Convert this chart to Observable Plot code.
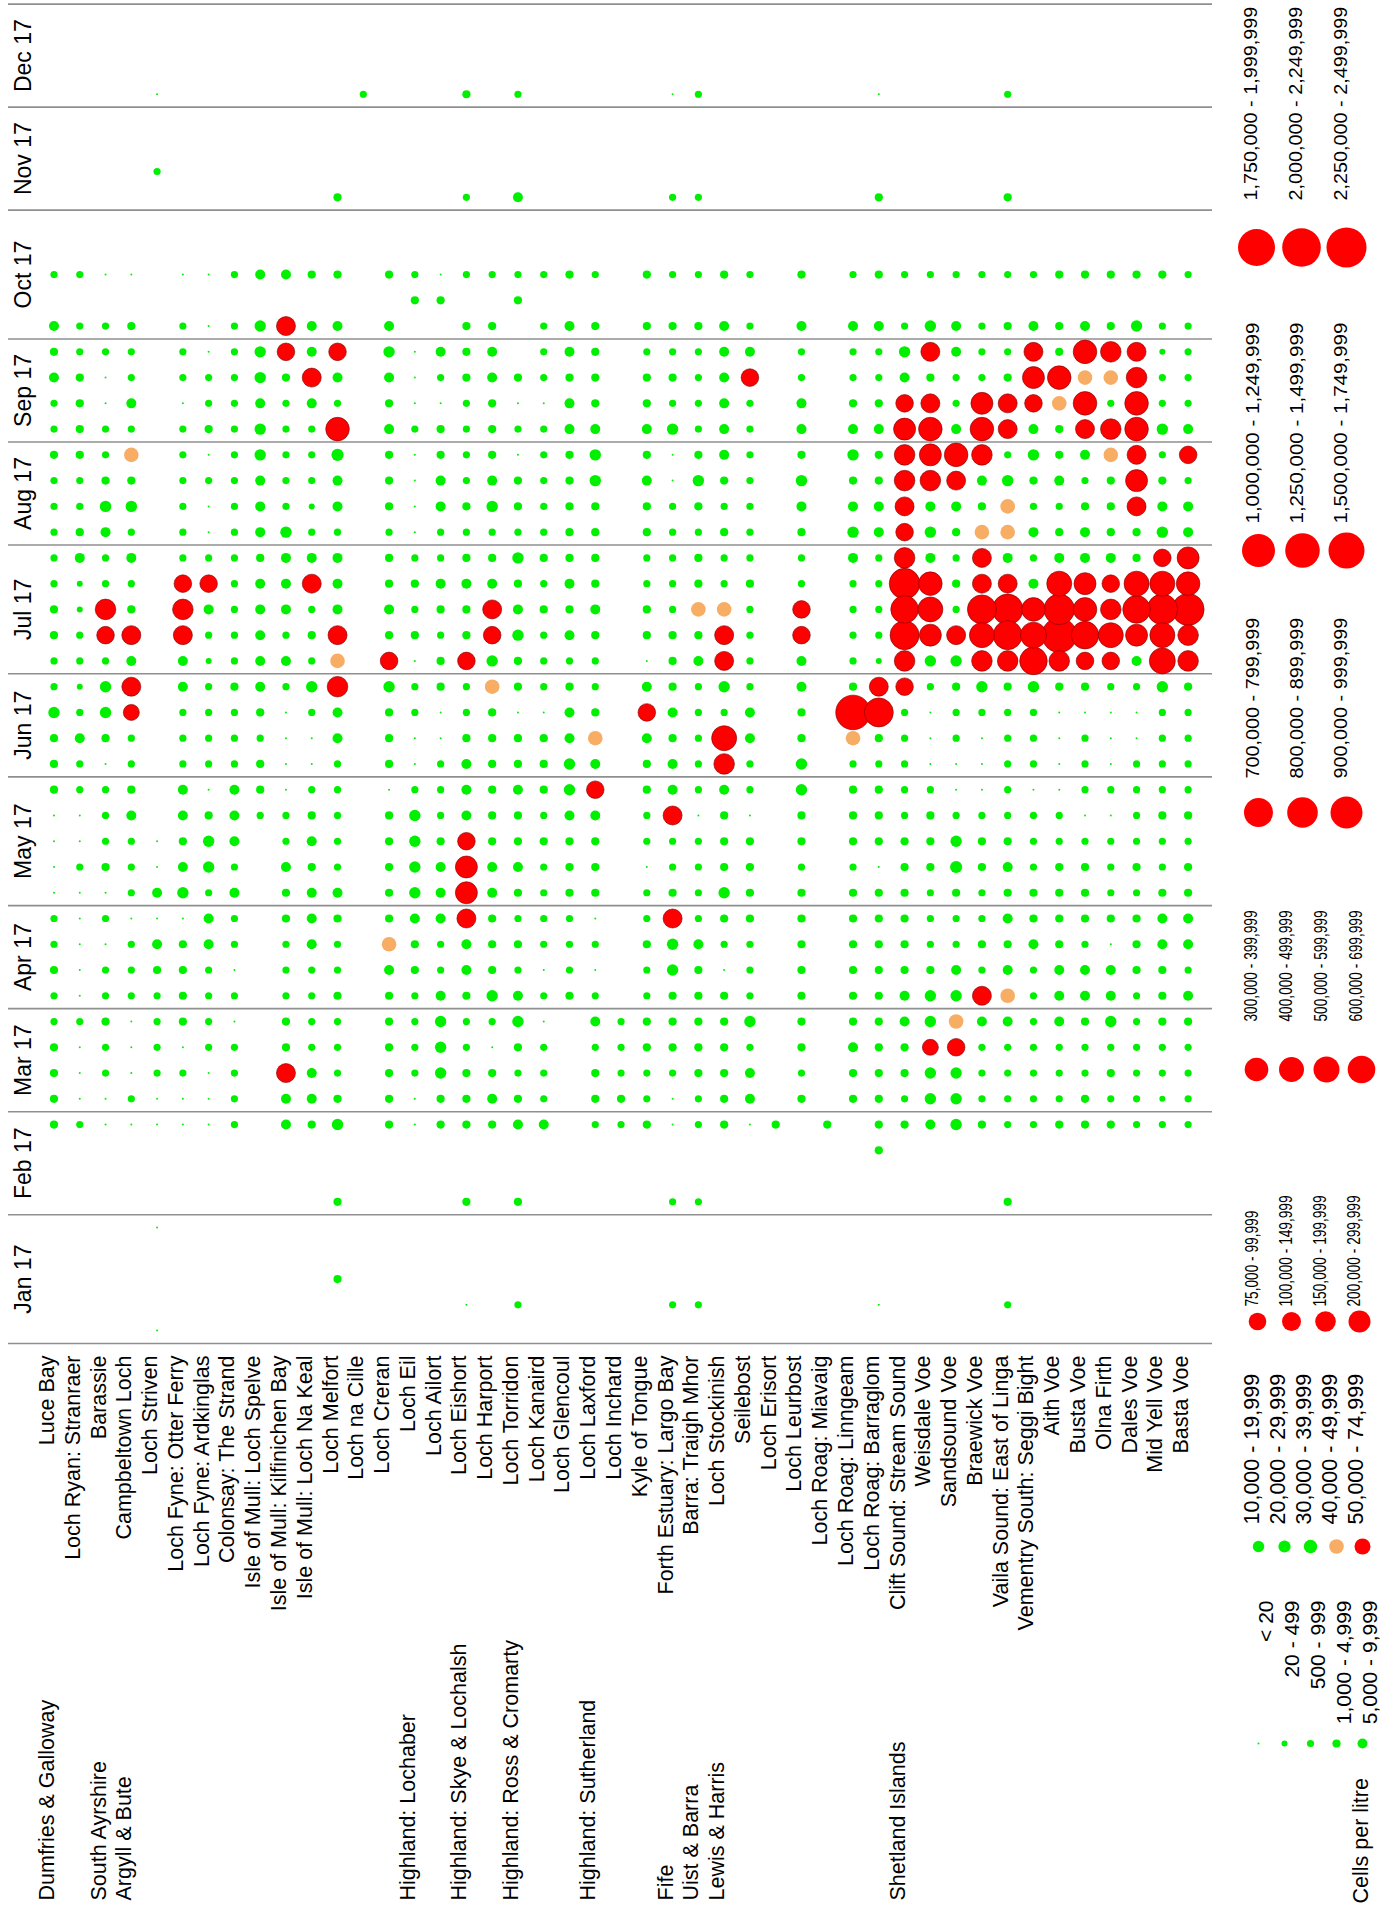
<!DOCTYPE html>
<html>
<head>
<meta charset="utf-8">
<script src="https://cdn.jsdelivr.net/npm/d3@7"></script>
<script src="https://cdn.jsdelivr.net/npm/@observablehq/plot@0.6"></script>
<style>
  html, body { margin: 0; padding: 0; background: #fff; }
  #chart { position: relative; width: 1389px; height: 1906px; overflow: hidden; background: #fff; }
  #chart > svg { position: absolute; overflow: visible; }
</style>
</head>
<body>
<div id="chart"></div>
<script>
// ---------- data ----------
const sites = [
  "Luce Bay", "Loch Ryan: Stranraer", "Barassie", "Campbeltown Loch", "Loch Striven",
  "Loch Fyne: Otter Ferry", "Loch Fyne: Ardkinglas", "Colonsay: The Strand",
  "Isle of Mull: Loch Spelve", "Isle of Mull: Kilfinichen Bay", "Isle of Mull: Loch Na Keal",
  "Loch Melfort", "Loch na Cille", "Loch Creran", "Loch Eil", "Loch Ailort", "Loch Eishort",
  "Loch Harport", "Loch Torridon", "Loch Kanaird", "Loch Glencoul", "Loch Laxford",
  "Loch Inchard", "Kyle of Tongue", "Forth Estuary: Largo Bay", "Barra: Traigh Mhor",
  "Loch Stockinish", "Seilebost", "Loch Erisort", "Loch Leurbost", "Loch Roag: Miavaig",
  "Loch Roag: Linngeam", "Loch Roag: Barraglom", "Clift Sound: Stream Sound", "Weisdale Voe",
  "Sandsound Voe", "Braewick Voe", "Vaila Sound: East of Linga", "Vementry South: Seggi Bight",
  "Aith Voe", "Busta Voe", "Olna Firth", "Dales Voe", "Mid Yell Voe", "Basta Voe"
];

// region name and the site its label sits under
const regionNames = ["Dumfries & Galloway", "South Ayrshire", "Argyll & Bute", "Highland: Lochaber",
  "Highland: Skye & Lochalsh", "Highland: Ross & Cromarty", "Highland: Sutherland", "Fife",
  "Uist & Barra", "Lewis & Harris", "Shetland Islands"];
const regionFirstSite = ["Luce Bay", "Barassie", "Campbeltown Loch", "Loch Eil", "Loch Eishort",
  "Loch Torridon", "Loch Laxford", "Forth Estuary: Largo Bay", "Barra: Traigh Mhor",
  "Loch Stockinish", "Clift Sound: Stream Sound"];

const months = ["Jan 17", "Feb 17", "Mar 17", "Apr 17", "May 17", "Jun 17",
  "Jul 17", "Aug 17", "Sep 17", "Oct 17", "Nov 17", "Dec 17"];
const weeksInMonth = [5, 4, 4, 4, 5, 4, 5, 4, 4, 5, 4, 4];

// density classes (cells per litre)
const binLabels = ["< 20", "20 - 499", "500 - 999", "1,000 - 4,999", "5,000 - 9,999",
  "10,000 - 19,999", "20,000 - 29,999", "30,000 - 39,999", "40,000 - 49,999", "50,000 - 74,999",
  "75,000 - 99,999", "100,000 - 149,999", "150,000 - 199,999", "200,000 - 299,999",
  "300,000 - 399,999", "400,000 - 499,999", "500,000 - 599,999", "600,000 - 699,999",
  "700,000 - 799,999", "800,000 - 899,999", "900,000 - 999,999",
  "1,000,000 - 1,249,999", "1,250,000 - 1,499,999", "1,500,000 - 1,749,999",
  "1,750,000 - 1,999,999", "2,000,000 - 2,249,999", "2,250,000 - 2,499,999"];
const binFloors = [0, 20, 500, 1000, 5000, 10000, 20000, 30000, 40000, 50000, 75000, 100000,
  150000, 200000, 300000, 400000, 500000, 600000, 700000, 800000, 900000, 1000000, 1250000,
  1500000, 1750000, 2000000, 2250000];

// Weekly results per site, one character per week (Jan wk1 .. Dec wk4), grouped by month.
// "." = not sampled; 0-9, a-q = density class index into binLabels.
const classCodes = "0123456789abcdefghijklmnopq";
const weeklyClasses = [
  "..... ...3 3332 2322 00003 3352 23322 2223 2243 4.2.. .... ....",
  "..... ...2 0002 0000 02002 2421 22114 3223 3332 2.2.. .... ....",
  "..... ...0 0223 2202 03222 0355 2ac22 4532 2002 2.0.. .... ....",
  "..... ...0 2000 2220 22243 229b 4b324 2538 2422 3.0.. .... ....",
  "0...0 ...0 0222 2340 400.. .... ..... .... .... ..... .2.. 0...",
  "..... ...0 0203 3330 54344 2224 4bca2 2222 2022 2.0.. .... ....",
  "..... ...0 0022 2244 25530 2222 124a2 0020 3220 0.0.. .... ....",
  "..... ...2 2220 2022 42444 2223 22222 2222 2222 2.2.. .... ....",
  "..... .... .... .... ...23 3234 44443 4445 5455 5.4.. .... ....",
  "..... ...4 4b33 2223 34220 0002 42444 5222 223a b.4.. .... ....",
  "..... ...3 4422 2244 43432 0025 232b4 2122 24b4 4.3.. .... ....",
  "..3.. 3..5 3222 3223 42222 244c 8b444 2446 e24a 4.3.. 3... ....",
  "..... .... .... .... ..... .... ..... .... .... ..... .... 2...",
  "..... ...3 3333 3483 33330 3335 a3433 2333 4345 4.3.. .... ....",
  "..... ...0 0222 2334 55552 0022 03232 0000 2000 .32.. .... ....",
  "..... ...3 3555 4224 44322 2003 32342 2443 3024 .30.. .... ....",
  ".0... 3..3 3322 344b dda44 4322 a3343 2322 2233 3.2.. 2... 3...",
  "..... ...3 4302 5333 44333 3338 5ab43 2543 3344 3.2.. .... ....",
  ".2... 3..4 3235 4232 34334 3303 35435 2330 203. .32.. 4... 2...",
  "..... ...4 2220 2022 22323 3302 22323 2222 2022 2.2.. .... ....",
  "..... .... .... 3222 33345 5443 24343 3333 4434 4.3.. .... ....",
  "..... ...2 3324 2020 3334a 4832 23433 3355 4333 3.2.. .... ....",
  "..... ...2 3222 .... ..... .... ..... .... .... ..... .... ....",
  "..... ...3 2233 2232 20223 34a4 03322 3343 4332 3.3.. .... ....",
  ".2... 2..0 0233 355b 322b4 4343 33222 2200 5232 3.2.. 2... 0...",
  ".2... 2..2 2333 3342 22202 2222 43833 2353 2222 3.2.. 2... 2...",
  "..... ...3 3333 3023 53334 cf25 bb822 3234 4444 4.3.. .... ....",
  "..... ...0 4425 2223 33302 2442 22232 2222 22a4 2.2.. .... ....",
  "..... ...3 .... .... ..... .... ..... .... .... ..... .... ....",
  "..... .... 3233 3333 32335 5334 4aa22 3453 4422 4.3.. .... ....",
  "..... ...3 .... .... ..... .... ..... .... .... ..... .... ....",
  "..... .... 3343 3333 32333 28m3 22224 5435 4322 4.2.. .... ....",
  ".0... ..33 3333 3333 30333 23ib 12222 4433 4322 4.3.. 3... 0...",
  "..... ...3 2334 4333 33322 222a cihjc abcc da45 2.2.. .... ....",
  "..... ...4 5595 5322 23332 0002 5dfe4 54cd eb3b 5.2.. .... ....",
  "..... ...5 55a8 5422 36520 0223 5b232 34be 4224 4.2.. .... ....",
  "..... ...3 2224 b232 23320 0025 cfibb 834c ed22 2.2.. .... ....",
  ".2... 3..2 2224 8434 34322 2223 cijb4 8852 bb32 3.2.. 3... 2...",
  "..... ...2 2222 2243 32220 2225 hge42 4235 4adb 4.2.. .... ....",
  "..... ...3 2224 4433 33220 0003 cmjf4 3243 38e3 3.3.. .... ....",
  "..... ...3 3223 4423 33202 2203 ahed4 4324 be8e 4.3.. .... ....",
  "..... ...3 2325 4403 22202 0002 afca4 3338 c28c 3.3.. .... ....",
  "..... ...2 2222 2333 23222 2002 4dhf3 3bdb eecb 5.3.. .... ....",
  "..... ...2 1223 3344 32232 2225 gfjfa 5432 5221 2.3.. .... ....",
  "..... ...2 2223 4244 33232 2223 ccked 442a 4222 2.2.. .... ...."
];

// ---------- derived tables ----------
const samples = [];
weeklyClasses.forEach((row, i) => {
  row.replace(/ /g, "").split("").forEach((c, w) => {
    if (c === ".") return;
    const bin = classCodes.indexOf(c);
    samples.push({site: sites[i], week: w + 1, value: binFloors[bin], bin});
  });
});

const monthEdges = [0];
weeksInMonth.forEach(n => monthEdges.push(monthEdges[monthEdges.length - 1] + n));
const monthRows = months.map((name, i) => ({name, mid: monthEdges[i] + weeksInMonth[i] / 2}));
const regions = regionNames.map((name, i) => ({name, site: regionFirstSite[i]}));

// ---------- shared encodings ----------
const FONT = "'Liberation Sans', Arial, Helvetica, sans-serif";
const GREEN = "#00f000", ORANGE = "#f7ad63", RED = "#ff0000";
const radii = [1, 3, 3.6, 4.1, 5, 5.7, 6.1, 6.7, 7.3, 8, 8.8, 9.5, 10.3, 11, 11.8, 12.5, 13,
  13.8, 14.5, 15.3, 16, 16.5, 17.3, 18, 18.5, 19.3, 20];
const rScale = {type: "threshold", domain: binFloors.slice(1), range: radii};
const colorScale = {type: "threshold", domain: [40000, 50000], range: [GREEN, ORANGE, RED]};

const chart = document.getElementById("chart");

// ---------- main grid: sites across, weeks up ----------
const main = Plot.plot({
  width: 1220,
  height: 1906,
  marginLeft: 40.6,
  marginRight: 19.5,
  marginTop: 3.6,
  marginBottom: 563,
  x: {type: "band", domain: sites, padding: 0, axis: null},
  y: {domain: [0, 52], axis: null},
  r: rScale,
  color: colorScale,
  style: {fontFamily: FONT, background: "transparent", overflow: "visible"},
  marks: [
    Plot.ruleY(monthEdges, {stroke: "#8f8f8f", strokeWidth: 1.6, insetLeft: -32.6, insetRight: -11.5}),
    Plot.text(monthRows, {y: "mid", text: "name", frameAnchor: "left", dx: -17, rotate: -90,
      textAnchor: "middle", fontSize: 23, fill: "#000"}),
    Plot.dot(samples.filter(d => d.value < 50000), {x: "site", y: d => d.week - 0.5, r: "value", fill: "value"}),
    Plot.dot(samples.filter(d => d.value >= 50000), {x: "site", y: d => d.week - 0.5, r: "value", fill: "value",
      stroke: "#7a0000", strokeWidth: 0.6}),
    Plot.text(sites, {x: d => d, text: d => d, frameAnchor: "bottom", dy: 12, rotate: -90,
      textAnchor: "end", fontSize: 21.5, fill: "#000"}),
    Plot.text(regions, {x: "site", text: "name", frameAnchor: "bottom", dy: 557, rotate: -90,
      textAnchor: "start", fontSize: 21.5, fill: "#000"})
  ]
});
main.style.left = "0px";
main.style.top = "0px";
chart.append(main);

// ---------- legend ----------
const LEGEND_LEFT = 1220, LEGEND_W = 169;
const legendGroups = [
  {bins: [24, 25, 26], x0: 1256, x1: 1346, dotY: 247, labelAt: 200, mode: "start", size: 18, stretch: 1.1},
  {bins: [21, 22, 23], x0: 1257, x1: 1346, dotY: 550, labelAt: 523, mode: "start", size: 18, stretch: 1.14},
  {bins: [18, 19, 20], x0: 1257, x1: 1346, dotY: 812, labelAt: 778, mode: "start", size: 18, stretch: 1.1},
  {bins: [14, 15, 16, 17], x0: 1256, x1: 1361, dotY: 1069, labelAt: 1021, mode: "start", size: 18, stretch: 0.76},
  {bins: [10, 11, 12, 13], x0: 1256, x1: 1359, dotY: 1321, labelAt: 1306, mode: "start", size: 18, stretch: 0.76},
  {bins: [5, 6, 7, 8, 9], x0: 1256, x1: 1363, dotY: 1546, labelAt: 1524, mode: "start", size: 21.5, stretch: 1},
  {bins: [0, 1, 2, 3, 4], x0: 1256, x1: 1363, dotY: 1743, labelAt: 1600, mode: "end", size: 21, stretch: 1, title: "Cells per litre"}
];

const stretched = [];
for (const g of legendGroups) {
  const items = g.bins.map(i => ({label: binLabels[i], floor: binFloors[i]}));
  const top = g.mode === "end" ? g.labelAt : g.dotY - 320;
  const h = g.dotY - top;
  const marks = [
    Plot.dot(items, {x: "label", r: "floor", fill: "floor", frameAnchor: "bottom"}),
    Plot.text(items, {x: "label", text: "label", rotate: -90, fill: "#000", fontSize: g.size,
      textAnchor: g.mode,
      frameAnchor: g.mode === "start" ? "bottom" : "top",
      dy: g.mode === "start" ? -(g.dotY - g.labelAt) : 0})
  ];
  if (g.title) {
    marks.push(Plot.text([g.title], {text: d => d, frameAnchor: "bottom-right", dx: -22, dy: 160,
      rotate: -90, textAnchor: "start", fontSize: 21.5, fill: "#000"}));
  }
  const svg = Plot.plot({
    width: LEGEND_W,
    height: h,
    margin: 0,
    x: {type: "point", padding: 0, domain: items.map(d => d.label),
        range: [g.x0 - LEGEND_LEFT, g.x1 - LEGEND_LEFT], axis: null},
    r: rScale,
    color: colorScale,
    style: {fontFamily: FONT, background: "transparent", overflow: "visible"},
    marks
  });
  svg.style.left = LEGEND_LEFT + "px";
  svg.style.top = top + "px";
  chart.append(svg);
  if (g.stretch !== 1) stretched.push({svg, stretch: g.stretch});
}

// right-hand legend labels are set in a condensed / elongated face
for (const {svg, stretch} of stretched) {
  svg.querySelectorAll("text").forEach(t => {
    const len = t.getComputedTextLength();
    t.setAttribute("textLength", (len * stretch).toFixed(1));
    t.setAttribute("lengthAdjust", "spacingAndGlyphs");
  });
}
</script>
</body>
</html>
